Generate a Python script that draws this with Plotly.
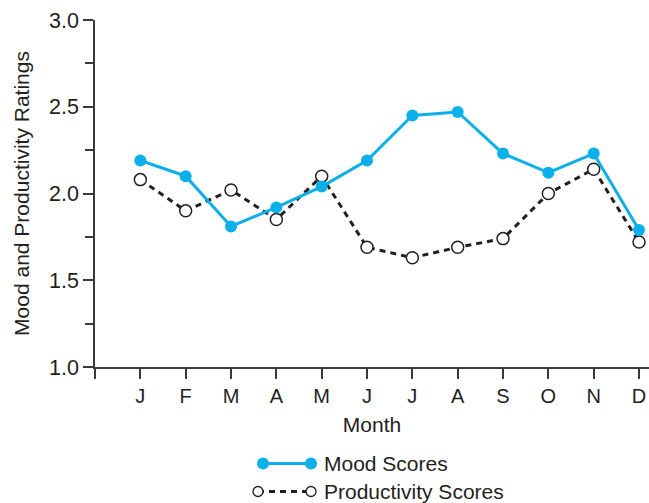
import plotly.graph_objects as go

# Monthly ratings
months = ["J", "F", "M", "A", "M", "J", "J", "A", "S", "O", "N", "D"]
mood_scores = [2.19, 2.10, 1.81, 1.92, 2.04, 2.19, 2.45, 2.47, 2.23, 2.12, 2.23, 1.79]
productivity_scores = [2.08, 1.90, 2.02, 1.85, 2.10, 1.69, 1.63, 1.69, 1.74, 2.00, 2.14, 1.72]

month_pos = list(range(1, len(months) + 1))

FONT = "Liberation Sans, Arial, Helvetica, sans-serif"
TEXT = "#231f20"
AXIS = "#3a3a3a"
BLUE = "#0bb0ea"
DARK = "#231f20"

W, H = 649, 503
ML, MR, MT, MB = 95, 0, 20, 136
PW, PH = W - ML - MR, H - MT - MB


def px_x(x):
    return (x - ML) / PW


def px_y(y):
    return (H - MB - y) / PH


fig = go.Figure()

fig.add_trace(go.Scatter(
    x=month_pos, y=productivity_scores, mode="lines+markers",
    name="Productivity Scores",
    line=dict(color=DARK, width=3, dash="6px,5px"),
    marker=dict(size=12, color="white", line=dict(color=DARK, width=1.5)),
    cliponaxis=False, showlegend=False,
))
fig.add_trace(go.Scatter(
    x=month_pos, y=mood_scores, mode="lines+markers",
    name="Mood Scores",
    line=dict(color=BLUE, width=3),
    marker=dict(size=12, color=BLUE, line=dict(width=0)),
    cliponaxis=False, showlegend=False,
))

# Legend drawn below the axes: a line sample with end markers, then the label
shapes = []
annotations = []
legend_rows = [
    ("Mood Scores", 463.5, 263, 311, dict(color=BLUE, width=3), BLUE, BLUE, 12),
    ("Productivity Scores", 491.5, 258, 311, dict(color=DARK, width=3, dash="6px,5px"), "white", DARK, 10),
]
for label, yy, xa, xb, ln, fill, edge, sz in legend_rows:
    shapes.append(dict(type="line", xref="paper", yref="paper",
                       x0=px_x(xa), x1=px_x(xb), y0=px_y(yy), y1=px_y(yy),
                       line=ln, layer="above"))
    for xc in (xa, xb):
        r = sz / 2
        shapes.append(dict(type="circle", xref="paper", yref="paper",
                           xsizemode="pixel", ysizemode="pixel",
                           xanchor=px_x(xc), yanchor=px_y(yy),
                           x0=-r, x1=r, y0=-r, y1=r,
                           fillcolor=fill,
                           line=dict(color=edge, width=1.3 if fill == "white" else 0),
                           layer="above"))
    annotations.append(dict(text=label, xref="paper", yref="paper",
                            x=px_x(322), y=px_y(yy), xanchor="left", yanchor="middle",
                            showarrow=False, font=dict(family=FONT, size=21, color=TEXT)))

fig.update_layout(
    width=W, height=H,
    margin=dict(l=ML, r=MR, t=MT, b=MB, pad=0),
    paper_bgcolor="white", plot_bgcolor="white",
    font=dict(family=FONT, color=TEXT, size=20),
    shapes=shapes, annotations=annotations,
    showlegend=False,
)

fig.update_xaxes(
    range=[0, 12.22],
    tickmode="array", tickvals=[0] + month_pos, ticktext=[""] + months,
    ticks="outside", ticklen=10, tickwidth=1.5, tickcolor=AXIS,
    showline=True, linecolor=AXIS, linewidth=1.5,
    showgrid=False, zeroline=False,
    tickfont=dict(family=FONT, size=20, color=TEXT),
    title=dict(text="Month", font=dict(family=FONT, size=21, color=TEXT), standoff=12),
)
fig.update_yaxes(
    range=[1, 3],
    tickmode="array", tickvals=[1.0, 1.5, 2.0, 2.5, 3.0],
    ticktext=["1.0", "1.5", "2.0", "2.5", "3.0"],
    ticks="outside", ticklen=10, tickwidth=1.5, tickcolor=AXIS,
    minor=dict(tickvals=[1.25, 1.75, 2.25, 2.75], ticks="outside", ticklen=8,
               tickwidth=1.5, tickcolor=AXIS, showgrid=False),
    showline=True, linecolor=AXIS, linewidth=1.5,
    showgrid=False, zeroline=False,
    tickfont=dict(family=FONT, size=21.5, color=TEXT),
    title=dict(text="Mood and Productivity Ratings",
               font=dict(family=FONT, size=21, color=TEXT), standoff=14),
)

fig.write_html("out.html")
